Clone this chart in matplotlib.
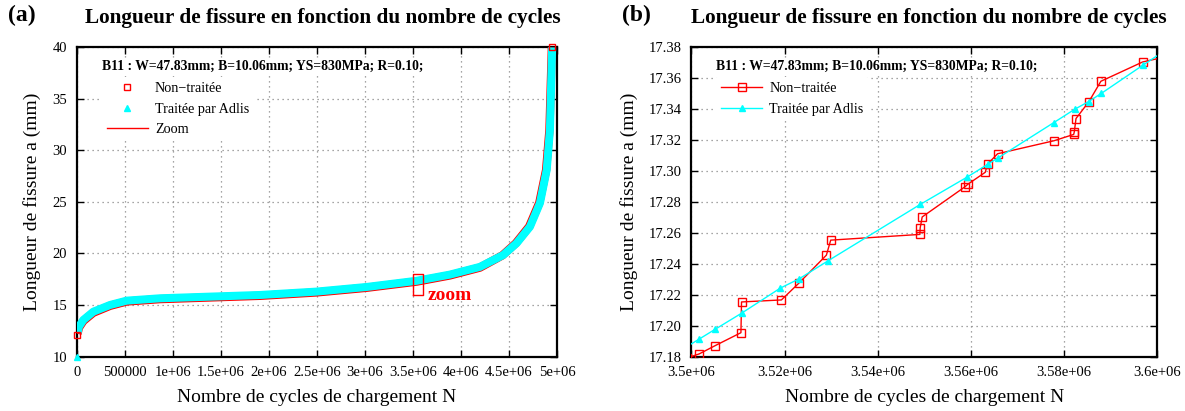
import matplotlib
matplotlib.use("Agg")
import matplotlib.pyplot as plt
from matplotlib.ticker import FuncFormatter, MultipleLocator

plt.rcParams["font.family"] = ["Liberation Serif", "DejaVu Serif"]

INFO = "B11 : W=47.83mm; B=10.06mm; YS=830MPa; R=0.10;"
TITLE = "Longueur de fissure en fonction du nombre de cycles"

# panel (a): full curve
full_n_raw = [0, 5000, 20000, 66000, 170000, 344000, 517000, 865000, 1.385e6,
              1.906e6, 2.497e6, 3.018e6, 3.539e6, 3.885e6, 4.198e6, 4.432e6,
              4.572e6, 4.711e6, 4.816e6, 4.887e6, 4.922e6, 4.947e6]
full_a_raw = [12.1, 12.2, 12.8, 13.45, 14.25, 14.92, 15.34, 15.57, 15.73,
              15.89, 16.22, 16.67, 17.27, 17.87, 18.63, 19.82,
              21.0, 22.62, 24.92, 28.1, 32.0, 40.0]
full_n_adlis = [0, 5000, 20000, 66000, 170000, 344000, 517000, 865000, 1.385e6,
                1.906e6, 2.497e6, 3.018e6, 3.539e6, 3.885e6, 4.198e6, 4.44e6,
                4.58e6, 4.719e6, 4.823e6, 4.893e6, 4.927e6, 4.95e6]
full_a_adlis = [10.0, 12.3, 12.9, 13.55, 14.35, 15.0, 15.42, 15.65, 15.81,
                15.97, 16.3, 16.75, 17.35, 17.95, 18.7, 19.85,
                21.0, 22.6, 24.9, 28.1, 32.0, 40.0]

zoom_n = [3.5e6, 3.6e6]
zoom_a = [16.0, 18.0]

# panel (b): zoom 3.5e6 - 3.6e6
raw_n = [3.4990e6, 3.50168e6, 3.50501e6, 3.51063e6, 3.51076e6, 3.51933e6, 3.52316e6,
         3.52899e6, 3.52992e6, 3.54908e6, 3.54914e6, 3.54957e6, 3.55871e6,
         3.55944e6, 3.56312e6, 3.56361e6, 3.56577e6, 3.57787e6, 3.58212e6,
         3.58225e6, 3.58262e6, 3.58536e6, 3.58796e6, 3.59694e6, 3.6020e6]
raw_a = [17.1790, 17.1817, 17.1869, 17.1954, 17.2153, 17.2166, 17.2277,
         17.2456, 17.2553, 17.2590, 17.2632, 17.2703, 17.2897,
         17.2916, 17.2992, 17.3045, 17.3112, 17.3196, 17.3237,
         17.3254, 17.3340, 17.3448, 17.3581, 17.3706, 17.3740]
adlis_n = [3.4980e6, 3.50162e6, 3.50514e6, 3.51076e6, 3.51912e6, 3.52316e6,
           3.52933e6, 3.54920e6, 3.55923e6, 3.56361e6, 3.56592e6, 3.57787e6,
           3.58234e6, 3.58536e6, 3.58808e6, 3.59703e6, 3.6010e6]
adlis_a = [17.1845, 17.1912, 17.1977, 17.2080, 17.2243, 17.2303,
           17.2419, 17.2785, 17.2961, 17.3043, 17.3086, 17.3314,
           17.3400, 17.3450, 17.3503, 17.3686, 17.3765]

RED = "#ff0000"
CYAN = "#00ffff"


def gp_fmt(v, pos):
    if v == 0:
        return "0"
    if abs(v) < 1e6:
        return f"{v:.0f}"
    s = f"{v / 1e6:.2f}".rstrip("0").rstrip(".")
    return f"{s}e+06"


def style_axes(ax):
    ax.grid(True, linestyle=(0, (1, 3)), color="#888888", linewidth=0.9)
    ax.tick_params(direction="in", top=True, right=True, length=5, width=1,
                   labelsize=10.5, pad=7)
    for sp in ax.spines.values():
        sp.set_linewidth(1.6)
    ax.xaxis.set_major_formatter(FuncFormatter(gp_fmt))
    ax.set_xlabel("Nombre de cycles de chargement N", fontsize=14, labelpad=7)
    ax.set_ylabel("Longueur de fissure a (mm)", fontsize=14, labelpad=8)


fig = plt.figure(figsize=(11.85, 4.11), dpi=100)
ax1 = fig.add_axes([0.065, 0.1326, 0.405, 0.752])
ax2 = fig.add_axes([0.5835, 0.1326, 0.3928, 0.752])

# (a)
ax1.plot(full_n_raw[1:], full_a_raw[1:], color=RED, lw=6.0, solid_capstyle="butt", zorder=3)
ax1.plot(full_n_adlis[1:], full_a_adlis[1:], color=CYAN, lw=5.8,
         solid_capstyle="butt", zorder=4)
ax1.plot([full_n_raw[0], full_n_raw[-1]], [full_a_raw[0], full_a_raw[-1]], ls="none",
         marker="s", mfc="none", mec=RED, ms=5, zorder=5, clip_on=False)
ax1.plot(full_n_adlis[:1], full_a_adlis[:1], ls="none", marker="^", color=CYAN,
         ms=5, zorder=5, clip_on=False)
ax1.plot([zoom_n[0], zoom_n[1], zoom_n[1], zoom_n[0], zoom_n[0]],
         [zoom_a[0], zoom_a[0], zoom_a[1], zoom_a[1], zoom_a[0]], color=RED, lw=1, zorder=6)
ax1.text(zoom_n[1] + 55000, zoom_a[0] - 0.1, "zoom", color=RED, fontsize=14,
         fontweight="bold", va="center", ha="left")

ax1.plot([], [], ls="none", marker="s", mfc="none", mec=RED, ms=4, label="Non\u2212traitée")
ax1.plot([], [], ls="none", marker="^", color=CYAN, ms=4, label="Traitée par Adlis")
ax1.plot([], [], color=RED, lw=1, label="Zoom")
ax1.set_xlim(0, 5e6)
ax1.set_ylim(10, 40)
ax1.xaxis.set_major_locator(MultipleLocator(500000))
ax1.yaxis.set_major_locator(MultipleLocator(5))
style_axes(ax1)

# (b)
ax2.plot(raw_n, raw_a, color=RED, lw=1, marker="s", mfc="none", mec=RED, ms=6,
         mew=1, label="Non\u2212traitée", zorder=3)
ax2.plot(adlis_n, adlis_a, color=CYAN, lw=1, marker="^", ms=5,
         label="Traitée par Adlis", zorder=4)
ax2.set_xlim(3.5e6, 3.6e6)
ax2.set_ylim(17.18, 17.38)
ax2.xaxis.set_major_locator(MultipleLocator(20000))
ax2.yaxis.set_major_locator(MultipleLocator(0.02))
ax2.yaxis.set_major_formatter(FuncFormatter(lambda v, p: f"{v:.2f}"))
style_axes(ax2)

for ax, ax_w in ((ax1, 480), (ax2, 465)):
    ax.text(25 / ax_w, 0.94, INFO, transform=ax.transAxes, fontsize=9.8,
            fontweight="bold", va="center", ha="left",
            bbox=dict(facecolor="white", edgecolor="none", pad=1), zorder=10)
    leg = ax.legend(loc="upper left", bbox_to_anchor=(24 / ax_w, 0.905), frameon=True,
                    fontsize=10.2, handlelength=2.9, handletextpad=0.5,
                    labelspacing=0.5, borderaxespad=0)
    leg.get_frame().set_edgecolor("none")
    leg.get_frame().set_facecolor("white")
    leg.get_frame().set_alpha(1)

fig.text(0.007, 0.962, "(a)", fontsize=17, fontweight="bold", va="center")
fig.text(0.072, 0.957, TITLE, fontsize=15.3, fontweight="bold", va="center")
fig.text(0.525, 0.962, "(b)", fontsize=17, fontweight="bold", va="center")
fig.text(0.583, 0.957, TITLE, fontsize=15.3, fontweight="bold", va="center")

fig.savefig("out.png", dpi=100)
